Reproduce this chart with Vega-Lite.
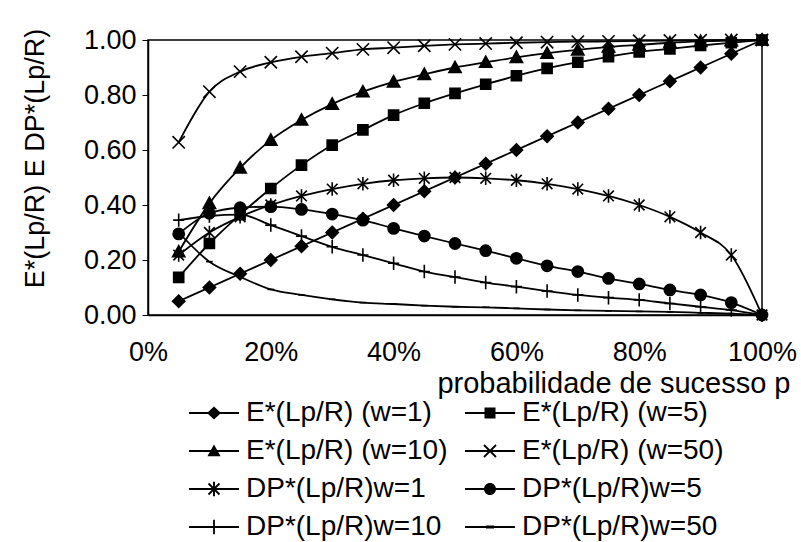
{
  "$schema": "https://vega.github.io/schema/vega-lite/v6.json",
  "width": 614,
  "height": 275,
  "autosize": "none",
  "padding": {"left": 148, "top": 40, "right": 39, "bottom": 227},
  "background": "white",
  "config": {
    "font": "Liberation Sans",
    "view": {"stroke": "#000", "strokeWidth": 1.5},
    "axis": {"grid": false, "labelColor": "#000", "titleColor": "#000", "domainColor": "#000", "domainWidth": 1.5, "tickColor": "#000", "labelFont": "Liberation Sans", "titleFont": "Liberation Sans", "titleFontWeight": "normal"},
    "legend": {"labelFont": "Liberation Sans", "labelColor": "#000"}
  },
  "datasets": {
    "d": [
      {"s":"E*(Lp/R) (w=1)","p":0.05,"v":0.05},{"s":"E*(Lp/R) (w=1)","p":0.10,"v":0.10},{"s":"E*(Lp/R) (w=1)","p":0.15,"v":0.15},{"s":"E*(Lp/R) (w=1)","p":0.20,"v":0.20},{"s":"E*(Lp/R) (w=1)","p":0.25,"v":0.25},{"s":"E*(Lp/R) (w=1)","p":0.30,"v":0.30},{"s":"E*(Lp/R) (w=1)","p":0.35,"v":0.35},{"s":"E*(Lp/R) (w=1)","p":0.40,"v":0.40},{"s":"E*(Lp/R) (w=1)","p":0.45,"v":0.45},{"s":"E*(Lp/R) (w=1)","p":0.50,"v":0.50},{"s":"E*(Lp/R) (w=1)","p":0.55,"v":0.55},{"s":"E*(Lp/R) (w=1)","p":0.60,"v":0.60},{"s":"E*(Lp/R) (w=1)","p":0.65,"v":0.65},{"s":"E*(Lp/R) (w=1)","p":0.70,"v":0.70},{"s":"E*(Lp/R) (w=1)","p":0.75,"v":0.75},{"s":"E*(Lp/R) (w=1)","p":0.80,"v":0.80},{"s":"E*(Lp/R) (w=1)","p":0.85,"v":0.85},{"s":"E*(Lp/R) (w=1)","p":0.90,"v":0.90},{"s":"E*(Lp/R) (w=1)","p":0.95,"v":0.95},{"s":"E*(Lp/R) (w=1)","p":1.00,"v":1.00},
      {"s":"E*(Lp/R) (w=5)","p":0.05,"v":0.137},{"s":"E*(Lp/R) (w=5)","p":0.10,"v":0.26},{"s":"E*(Lp/R) (w=5)","p":0.15,"v":0.365},{"s":"E*(Lp/R) (w=5)","p":0.20,"v":0.46},{"s":"E*(Lp/R) (w=5)","p":0.25,"v":0.545},{"s":"E*(Lp/R) (w=5)","p":0.30,"v":0.618},{"s":"E*(Lp/R) (w=5)","p":0.35,"v":0.673},{"s":"E*(Lp/R) (w=5)","p":0.40,"v":0.727},{"s":"E*(Lp/R) (w=5)","p":0.45,"v":0.77},{"s":"E*(Lp/R) (w=5)","p":0.50,"v":0.806},{"s":"E*(Lp/R) (w=5)","p":0.55,"v":0.839},{"s":"E*(Lp/R) (w=5)","p":0.60,"v":0.87},{"s":"E*(Lp/R) (w=5)","p":0.65,"v":0.897},{"s":"E*(Lp/R) (w=5)","p":0.70,"v":0.919},{"s":"E*(Lp/R) (w=5)","p":0.75,"v":0.939},{"s":"E*(Lp/R) (w=5)","p":0.80,"v":0.957},{"s":"E*(Lp/R) (w=5)","p":0.85,"v":0.968},{"s":"E*(Lp/R) (w=5)","p":0.90,"v":0.98},{"s":"E*(Lp/R) (w=5)","p":0.95,"v":0.99},{"s":"E*(Lp/R) (w=5)","p":1.00,"v":1.0},
      {"s":"E*(Lp/R) (w=10)","p":0.05,"v":0.23},{"s":"E*(Lp/R) (w=10)","p":0.10,"v":0.406},{"s":"E*(Lp/R) (w=10)","p":0.15,"v":0.535},{"s":"E*(Lp/R) (w=10)","p":0.20,"v":0.636},{"s":"E*(Lp/R) (w=10)","p":0.25,"v":0.709},{"s":"E*(Lp/R) (w=10)","p":0.30,"v":0.767},{"s":"E*(Lp/R) (w=10)","p":0.35,"v":0.812},{"s":"E*(Lp/R) (w=10)","p":0.40,"v":0.848},{"s":"E*(Lp/R) (w=10)","p":0.45,"v":0.875},{"s":"E*(Lp/R) (w=10)","p":0.50,"v":0.9},{"s":"E*(Lp/R) (w=10)","p":0.55,"v":0.919},{"s":"E*(Lp/R) (w=10)","p":0.60,"v":0.937},{"s":"E*(Lp/R) (w=10)","p":0.65,"v":0.952},{"s":"E*(Lp/R) (w=10)","p":0.70,"v":0.964},{"s":"E*(Lp/R) (w=10)","p":0.75,"v":0.975},{"s":"E*(Lp/R) (w=10)","p":0.80,"v":0.982},{"s":"E*(Lp/R) (w=10)","p":0.85,"v":0.99},{"s":"E*(Lp/R) (w=10)","p":0.90,"v":0.995},{"s":"E*(Lp/R) (w=10)","p":0.95,"v":0.998},{"s":"E*(Lp/R) (w=10)","p":1.00,"v":1.0},
      {"s":"E*(Lp/R) (w=50)","p":0.05,"v":0.628},{"s":"E*(Lp/R) (w=50)","p":0.10,"v":0.812},{"s":"E*(Lp/R) (w=50)","p":0.15,"v":0.885},{"s":"E*(Lp/R) (w=50)","p":0.20,"v":0.919},{"s":"E*(Lp/R) (w=50)","p":0.25,"v":0.939},{"s":"E*(Lp/R) (w=50)","p":0.30,"v":0.952},{"s":"E*(Lp/R) (w=50)","p":0.35,"v":0.966},{"s":"E*(Lp/R) (w=50)","p":0.40,"v":0.972},{"s":"E*(Lp/R) (w=50)","p":0.45,"v":0.979},{"s":"E*(Lp/R) (w=50)","p":0.50,"v":0.984},{"s":"E*(Lp/R) (w=50)","p":0.55,"v":0.987},{"s":"E*(Lp/R) (w=50)","p":0.60,"v":0.99},{"s":"E*(Lp/R) (w=50)","p":0.65,"v":0.992},{"s":"E*(Lp/R) (w=50)","p":0.70,"v":0.994},{"s":"E*(Lp/R) (w=50)","p":0.75,"v":0.995},{"s":"E*(Lp/R) (w=50)","p":0.80,"v":0.997},{"s":"E*(Lp/R) (w=50)","p":0.85,"v":0.998},{"s":"E*(Lp/R) (w=50)","p":0.90,"v":0.999},{"s":"E*(Lp/R) (w=50)","p":0.95,"v":1.0},{"s":"E*(Lp/R) (w=50)","p":1.00,"v":1.0},
      {"s":"DP*(Lp/R)w=1","p":0.05,"v":0.218},{"s":"DP*(Lp/R)w=1","p":0.10,"v":0.3},{"s":"DP*(Lp/R)w=1","p":0.15,"v":0.357},{"s":"DP*(Lp/R)w=1","p":0.20,"v":0.4},{"s":"DP*(Lp/R)w=1","p":0.25,"v":0.433},{"s":"DP*(Lp/R)w=1","p":0.30,"v":0.458},{"s":"DP*(Lp/R)w=1","p":0.35,"v":0.477},{"s":"DP*(Lp/R)w=1","p":0.40,"v":0.49},{"s":"DP*(Lp/R)w=1","p":0.45,"v":0.497},{"s":"DP*(Lp/R)w=1","p":0.50,"v":0.5},{"s":"DP*(Lp/R)w=1","p":0.55,"v":0.497},{"s":"DP*(Lp/R)w=1","p":0.60,"v":0.49},{"s":"DP*(Lp/R)w=1","p":0.65,"v":0.477},{"s":"DP*(Lp/R)w=1","p":0.70,"v":0.458},{"s":"DP*(Lp/R)w=1","p":0.75,"v":0.433},{"s":"DP*(Lp/R)w=1","p":0.80,"v":0.4},{"s":"DP*(Lp/R)w=1","p":0.85,"v":0.357},{"s":"DP*(Lp/R)w=1","p":0.90,"v":0.3},{"s":"DP*(Lp/R)w=1","p":0.95,"v":0.218},{"s":"DP*(Lp/R)w=1","p":1.00,"v":0.0},
      {"s":"DP*(Lp/R)w=5","p":0.05,"v":0.295},{"s":"DP*(Lp/R)w=5","p":0.10,"v":0.37},{"s":"DP*(Lp/R)w=5","p":0.15,"v":0.39},{"s":"DP*(Lp/R)w=5","p":0.20,"v":0.394},{"s":"DP*(Lp/R)w=5","p":0.25,"v":0.384},{"s":"DP*(Lp/R)w=5","p":0.30,"v":0.367},{"s":"DP*(Lp/R)w=5","p":0.35,"v":0.345},{"s":"DP*(Lp/R)w=5","p":0.40,"v":0.315},{"s":"DP*(Lp/R)w=5","p":0.45,"v":0.287},{"s":"DP*(Lp/R)w=5","p":0.50,"v":0.26},{"s":"DP*(Lp/R)w=5","p":0.55,"v":0.234},{"s":"DP*(Lp/R)w=5","p":0.60,"v":0.206},{"s":"DP*(Lp/R)w=5","p":0.65,"v":0.179},{"s":"DP*(Lp/R)w=5","p":0.70,"v":0.158},{"s":"DP*(Lp/R)w=5","p":0.75,"v":0.133},{"s":"DP*(Lp/R)w=5","p":0.80,"v":0.113},{"s":"DP*(Lp/R)w=5","p":0.85,"v":0.091},{"s":"DP*(Lp/R)w=5","p":0.90,"v":0.073},{"s":"DP*(Lp/R)w=5","p":0.95,"v":0.045},{"s":"DP*(Lp/R)w=5","p":1.00,"v":0.0},
      {"s":"DP*(Lp/R)w=10","p":0.05,"v":0.345},{"s":"DP*(Lp/R)w=10","p":0.10,"v":0.36},{"s":"DP*(Lp/R)w=10","p":0.15,"v":0.365},{"s":"DP*(Lp/R)w=10","p":0.20,"v":0.327},{"s":"DP*(Lp/R)w=10","p":0.25,"v":0.287},{"s":"DP*(Lp/R)w=10","p":0.30,"v":0.248},{"s":"DP*(Lp/R)w=10","p":0.35,"v":0.218},{"s":"DP*(Lp/R)w=10","p":0.40,"v":0.188},{"s":"DP*(Lp/R)w=10","p":0.45,"v":0.158},{"s":"DP*(Lp/R)w=10","p":0.50,"v":0.138},{"s":"DP*(Lp/R)w=10","p":0.55,"v":0.118},{"s":"DP*(Lp/R)w=10","p":0.60,"v":0.103},{"s":"DP*(Lp/R)w=10","p":0.65,"v":0.087},{"s":"DP*(Lp/R)w=10","p":0.70,"v":0.073},{"s":"DP*(Lp/R)w=10","p":0.75,"v":0.063},{"s":"DP*(Lp/R)w=10","p":0.80,"v":0.055},{"s":"DP*(Lp/R)w=10","p":0.85,"v":0.042},{"s":"DP*(Lp/R)w=10","p":0.90,"v":0.03},{"s":"DP*(Lp/R)w=10","p":0.95,"v":0.018},{"s":"DP*(Lp/R)w=10","p":1.00,"v":0.0},
      {"s":"DP*(Lp/R)w=50","p":0.05,"v":0.30},{"s":"DP*(Lp/R)w=50","p":0.10,"v":0.194},{"s":"DP*(Lp/R)w=50","p":0.15,"v":0.139},{"s":"DP*(Lp/R)w=50","p":0.20,"v":0.093},{"s":"DP*(Lp/R)w=50","p":0.25,"v":0.073},{"s":"DP*(Lp/R)w=50","p":0.30,"v":0.057},{"s":"DP*(Lp/R)w=50","p":0.35,"v":0.045},{"s":"DP*(Lp/R)w=50","p":0.40,"v":0.04},{"s":"DP*(Lp/R)w=50","p":0.45,"v":0.034},{"s":"DP*(Lp/R)w=50","p":0.50,"v":0.03},{"s":"DP*(Lp/R)w=50","p":0.55,"v":0.028},{"s":"DP*(Lp/R)w=50","p":0.60,"v":0.024},{"s":"DP*(Lp/R)w=50","p":0.65,"v":0.02},{"s":"DP*(Lp/R)w=50","p":0.70,"v":0.017},{"s":"DP*(Lp/R)w=50","p":0.75,"v":0.015},{"s":"DP*(Lp/R)w=50","p":0.80,"v":0.013},{"s":"DP*(Lp/R)w=50","p":0.85,"v":0.011},{"s":"DP*(Lp/R)w=50","p":0.90,"v":0.008},{"s":"DP*(Lp/R)w=50","p":0.95,"v":0.005},{"s":"DP*(Lp/R)w=50","p":1.00,"v":0.0}
    ]
  },
  "data": {"name": "d"},
  "encoding": {
    "x": {"field": "p", "type": "quantitative", "scale": {"domain": [0, 1], "nice": false},
      "axis": {"values": [0, 0.2, 0.4, 0.6, 0.8, 1], "format": ".0%", "ticks": false, "labelFontSize": 27, "labelPadding": 24, "labelFlush": false,
        "title": "probabilidade de sucesso p", "titleFontSize": 29, "titleAnchor": "end", "titleAlign": "right", "titleBaseline": "middle", "titleX": 642, "titleY": 68}},
    "y": {"field": "v", "type": "quantitative", "scale": {"domain": [0, 1], "nice": false},
      "axis": {"values": [0, 0.2, 0.4, 0.6, 0.8, 1], "format": ".2f", "tickSize": 6, "labelFontSize": 27, "labelPadding": 6, "labelFlush": false,
        "title": "E*(Lp/R) E DP*(Lp/R)", "titleFontSize": 27, "titleAnchor": "middle", "titleBaseline": "middle", "titleX": -113, "titleY": 118}}
  },
  "layer": [
    {
      "mark": {"type": "line", "interpolate": "monotone", "color": "#000", "strokeWidth": 1.8},
      "encoding": {"detail": {"field": "s"}}
    },
    {
      "mark": {"type": "point", "filled": true, "fill": "#000", "stroke": "#000", "strokeWidth": 1.6, "opacity": 1, "size": 125},
      "encoding": {
        "shape": {"field": "s", "type": "nominal", "legend": null,
          "scale": {
            "domain": ["E*(Lp/R) (w=1)", "E*(Lp/R) (w=5)", "E*(Lp/R) (w=10)", "E*(Lp/R) (w=50)", "DP*(Lp/R)w=1", "DP*(Lp/R)w=5", "DP*(Lp/R)w=10", "DP*(Lp/R)w=50"],
            "range": [
              "M0,-1.1L1.1,0L0,1.1L-1.1,0Z",
              "M-0.9,-0.9L0.9,-0.9L0.9,0.9L-0.9,0.9Z",
              "M-1.1,0.9L0,-1.1L1.1,0.9Z",
              "M-1.1,-1.1L1.1,1.1M-1.1,1.1L1.1,-1.1",
              "M-0.95,-0.95L0.95,0.95M-0.95,0.95L0.95,-0.95M0,-1.2L0,1.2",
              "M1,0A1,1,0,1,1,-1,0A1,1,0,1,1,1,0Z",
              "M-1,0L1,0M0,-1.2L0,1.2",
              "M-0.6,0L0.6,0"
            ]
          }
        }
      }
    },
    {
      "mark": {"type": "point", "filled": true, "color": "#000", "opacity": 0, "size": 400},
      "encoding": {
        "shape": {"field": "s", "type": "nominal",
          "scale": {
            "domain": ["E*(Lp/R) (w=1)", "E*(Lp/R) (w=5)", "E*(Lp/R) (w=10)", "E*(Lp/R) (w=50)", "DP*(Lp/R)w=1", "DP*(Lp/R)w=5", "DP*(Lp/R)w=10", "DP*(Lp/R)w=50"],
            "range": [
              "M-2.5,-0.09L2.5,-0.09L2.5,0.09L-2.5,0.09ZM0,-0.65L0.7,0L0,0.65L-0.7,0Z",
              "M-2.5,-0.09L2.5,-0.09L2.5,0.09L-2.5,0.09ZM-0.55,-0.55L0.55,-0.55L0.55,0.55L-0.55,0.55Z",
              "M-2.5,-0.09L2.5,-0.09L2.5,0.09L-2.5,0.09ZM0,-0.66L0.66,0.52L-0.66,0.52Z",
              "M-2.5,-0.09L2.5,-0.09L2.5,0.09L-2.5,0.09ZM-0.536,-0.664L0.664,0.536L0.536,0.664L-0.664,-0.536ZM-0.664,0.536L0.536,-0.664L0.664,-0.536L-0.536,0.664Z",
              "M-2.5,-0.09L2.5,-0.09L2.5,0.09L-2.5,0.09ZM-0.486,-0.614L0.614,0.486L0.486,0.614L-0.614,-0.486ZM-0.614,0.486L0.486,-0.614L0.614,-0.486L-0.486,0.614ZM-0.1,-0.72L0.1,-0.72L0.1,0.72L-0.1,0.72Z",
              "M-2.5,-0.09L2.5,-0.09L2.5,0.09L-2.5,0.09ZM0.6,0A0.6,0.6,0,1,1,-0.6,0A0.6,0.6,0,1,1,0.6,0Z",
              "M-2.5,-0.09L2.5,-0.09L2.5,0.09L-2.5,0.09ZM-0.09,-0.72L0.09,-0.72L0.09,0.72L-0.09,0.72Z",
              "M-2.5,-0.09L2.5,-0.09L2.5,0.09L-2.5,0.09ZM-0.4,-0.15L0.4,-0.15L0.4,0.15L-0.4,0.15Z"
            ]
          },
          "legend": {
            "title": null, "orient": "none", "legendX": 52, "legendY": 359, "columns": 2, "direction": "horizontal",
            "padding": 0, "symbolSize": 400, "symbolStrokeWidth": 0, "symbolFillColor": "#000", "symbolOpacity": 1,
            "labelFontSize": 28, "labelOffset": 18, "columnPadding": 17, "rowPadding": 10, "labelLimit": 400,
            "encode": {"symbols": {"opacity": {"value": 1}, "fill": {"value": "#000"}, "fillOpacity": {"value": 1}}}
          }
        }
      }
    }
  ],
  "resolve": {"scale": {"shape": "independent"}}
}
